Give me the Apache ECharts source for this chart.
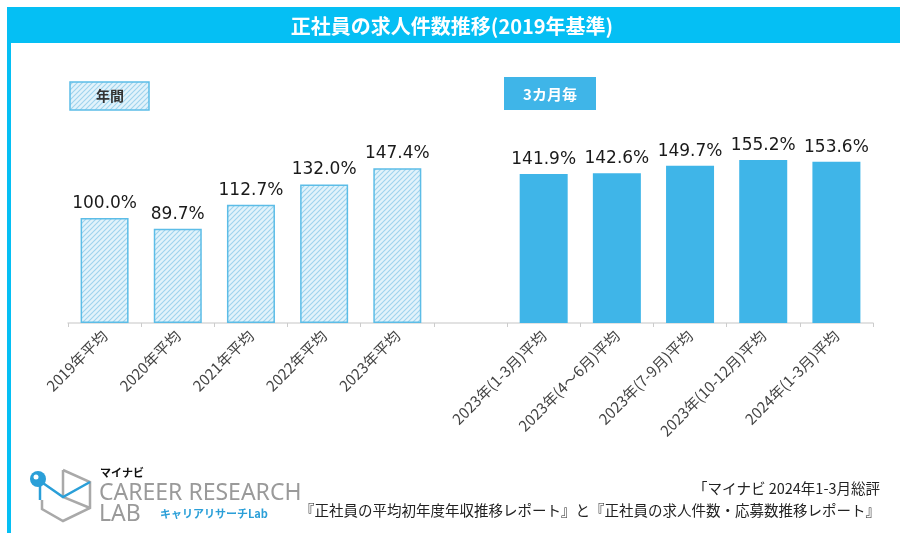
<!DOCTYPE html>
<html><head><meta charset="utf-8">
<script src="https://cdn.jsdelivr.net/npm/echarts@6/dist/echarts.min.js"></script>
<style>html,body{margin:0;padding:0;background:#fff}#c{width:900px;height:533px}</style>
</head><body><div id="c"></div>
<script>
const titleText = '正社員の求人件数推移(2019年基準)';
const categories = ['2019年平均','2020年平均','2021年平均','2022年平均','2023年平均','',
  '2023年(1-3月)平均','2023年(4～6月)平均','2023年(7-9月)平均','2023年(10-12月)平均','2024年(1-3月)平均'];
const annualValues = [100.0, 89.7, 112.7, 132.0, 147.4, '-', '-', '-', '-', '-', '-'];
const quarterlyValues = ['-', '-', '-', '-', '-', '-', 141.9, 142.6, 149.7, 155.2, 153.6];
const legendAnnual = '年間';
const legendQuarterly = '3カ月毎';
const sourceLine1 = '「マイナビ 2024年1-3月総評';
const sourceLine2 = '『正社員の平均初年度年収推移レポート』と『正社員の求人件数・応募数推移レポート』';

// hatch pattern
const pc = document.createElement('canvas');
pc.width = 5; pc.height = 5;
const g = pc.getContext('2d');
g.fillStyle = '#e2f3fb'; g.fillRect(0,0,5,5);
g.strokeStyle = '#9fd3ee'; g.lineWidth = 1.1;
g.beginPath();
g.moveTo(-1,6); g.lineTo(6,-1);
g.moveTo(-1,1); g.lineTo(1,-1);
g.moveTo(4,6); g.lineTo(6,4);
g.stroke();
const hatch = {image: pc, repeat: 'repeat'};

const blue = '#05bff4';
const barBlue = '#3fb5e8';
const chart = echarts.init(document.getElementById('c'), null, {renderer:'canvas'});
const labelStyle = {show:true, position:'top', distance:6, formatter: p => p.value.toFixed(1) + '%',
  fontFamily:'DejaVu Sans', fontSize:17, color:'#1a1a1a'};
chart.setOption({
  animation:false,
  grid:{left:68, right:27, top:113, bottom:210},
  xAxis:{type:'category', data:categories,
    axisLine:{lineStyle:{color:'#d9d9d9', width:1.5}},
    axisTick:{show:true, length:4, lineStyle:{color:'#cccccc'}},
    axisLabel:{interval:0, rotate:45, fontFamily:'Noto Sans CJK JP', fontSize:15, color:'#444', margin:10}},
  yAxis:{type:'value', min:0, max:200, show:false},
  series:[
    {type:'bar', data:annualValues, barWidth:48, barGap:'-100%',
      itemStyle:{color:hatch, borderColor:'#5cbde7', borderWidth:1.5}, label:labelStyle},
    {type:'bar', data:quarterlyValues, barWidth:48,
      itemStyle:{color:barBlue}, label:labelStyle}
  ],
  graphic:[
    {type:'rect', shape:{x:7,y:7,width:893,height:36}, style:{fill:blue}, silent:true},
    {type:'rect', shape:{x:7,y:43,width:4,height:490}, style:{fill:blue}, silent:true},
    {type:'text', x:452, y:26, style:{text:titleText, fill:'#fff', fontSize:20, fontWeight:'bold', fontFamily:'Noto Sans CJK JP',
      align:'center', verticalAlign:'middle'}},
    {type:'rect', shape:{x:70,y:82,width:79,height:28}, style:{fill:hatch, stroke:'#5cbde7', lineWidth:1.5}},
    {type:'text', x:110, y:96, style:{text:legendAnnual, fill:'#333', fontSize:14, fontWeight:'bold', fontFamily:'Noto Sans CJK JP',
      align:'center', verticalAlign:'middle'}},
    {type:'rect', shape:{x:504,y:77,width:92,height:33}, style:{fill:barBlue}},
    {type:'text', x:550, y:94, style:{text:legendQuarterly, fill:'#fff', fontSize:15, fontWeight:'bold', fontFamily:'Noto Sans CJK JP',
      align:'center', verticalAlign:'middle'}},
    // logo
    {type:'polyline', shape:{points:[[63,470],[90,482],[90,508],[63,521],[42,509],[42,500]]}, style:{stroke:'#a9a9a9', lineWidth:2.5, fill:null}},
    {type:'polyline', shape:{points:[[63,470],[63,497],[90,508]]}, style:{stroke:'#a9a9a9', lineWidth:2.5, fill:null}},
    {type:'polyline', shape:{points:[[40,481],[40,500]]}, style:{stroke:'#2a9fd8', lineWidth:2.5, fill:null}},
    {type:'polyline', shape:{points:[[40,481],[63,497],[90,482]]}, style:{stroke:'#2a9fd8', lineWidth:2.5, fill:null}},
    {type:'circle', shape:{cx:38,cy:479,r:8}, style:{fill:'#2a9fd8'}},
    {type:'circle', shape:{cx:36,cy:477,r:2.5}, style:{fill:'#fff'}},
    {type:'text', x:100, y:473, style:{text:'マイナビ', fill:'#111', fontSize:11, fontWeight:'bold', fontFamily:'Noto Sans CJK JP', verticalAlign:'middle'}},
    {type:'text', x:99, y:493, style:{text:'CAREER RESEARCH', fill:'#9a9a9a', fontSize:23, fontFamily:'Noto Sans', verticalAlign:'middle'}},
    {type:'text', x:99, y:514, style:{text:'LAB', fill:'#9a9a9a', fontSize:23, fontFamily:'Noto Sans', verticalAlign:'middle'}},
    {type:'text', x:160, y:514, style:{text:'キャリアリサーチLab', fill:'#2a9fd8', fontSize:11, fontWeight:'bold', fontFamily:'Noto Sans CJK JP', verticalAlign:'middle'}},
    {type:'text', x:880, y:488, style:{text:sourceLine1, fill:'#222', fontSize:14.5, fontFamily:'Noto Sans CJK JP', align:'right', verticalAlign:'middle'}},
    {type:'text', x:880, y:510, style:{text:sourceLine2, fill:'#222', fontSize:14.5, fontFamily:'Noto Sans CJK JP', align:'right', verticalAlign:'middle'}}
  ]
});
</script></body></html>
